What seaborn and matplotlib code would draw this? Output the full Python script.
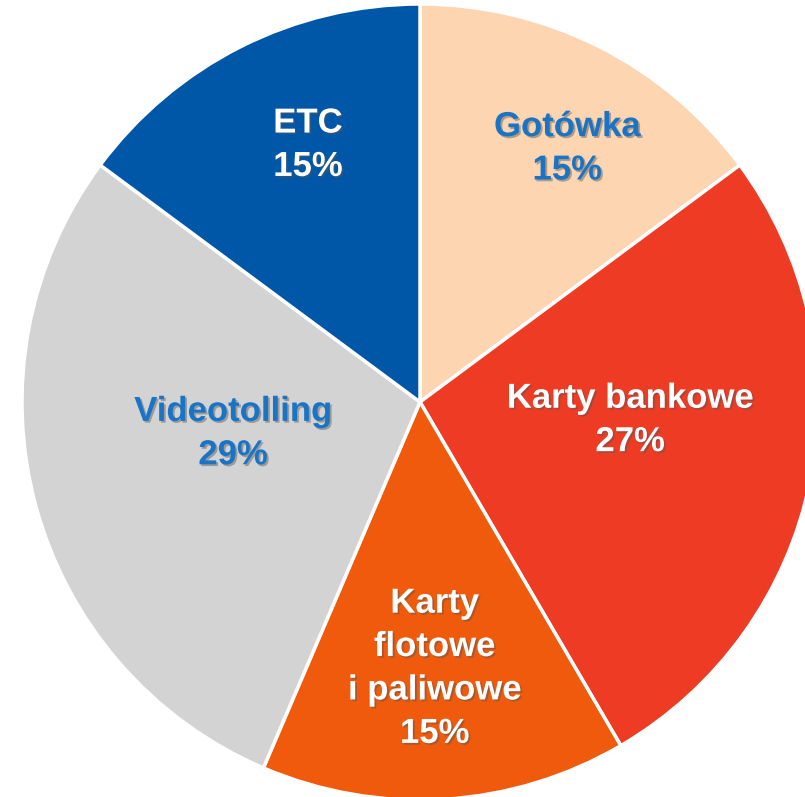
import matplotlib
matplotlib.use("Agg")
import matplotlib.pyplot as plt
import matplotlib.patheffects as pe
import numpy as np
import seaborn as sns

# data
categories = ["Gotówka", "Karty bankowe", "Karty\nflotowe\ni paliwowe", "Videotolling", "ETC"]
shares = [15, 27, 15, 29, 15]

colors = ["#FDD5B1", "#EE3B24", "#EF5A0C", "#D3D3D3", "#0057A8"]
text_colors = ["#1A74C6", "white", "white", "#1A74C6", "white"]
# radial distance / angle nudge for each label
label_r = [0.737, 0.53, 0.67, 0.476, 0.705]
label_nudge = [-3.4, 6.7, -0.4, -5.7, -3.2]

sns.set_theme(style="white")
plt.rcParams["font.family"] = ["Liberation Sans", "DejaVu Sans"]

fig = plt.figure(figsize=(8.05, 7.97), dpi=100)
ax = fig.add_axes([0, 0, 1, 1])

wedges, _ = ax.pie(
    shares,
    colors=colors,
    startangle=90,
    counterclock=False,
    radius=1.0,
    wedgeprops=dict(edgecolor="white", linewidth=2.5),
)

total = sum(shares)
shadow = [pe.SimplePatchShadow(offset=(1.3, -1.3), shadow_rgbFace="#555555", alpha=0.45), pe.Normal()]
for w, cat, val, tc, r, nd in zip(wedges, categories, shares, text_colors, label_r, label_nudge):
    mid = np.deg2rad((w.theta1 + w.theta2) / 2 + nd)
    x, y = r * np.cos(mid), r * np.sin(mid)
    ax.text(x, y, f"{cat}\n{round(val / total * 100)}%", ha="center", va="center",
            fontsize=25, fontweight="bold", color=tc, linespacing=1.4,
            path_effects=shadow)

# scale: 398 px per unit, centre at (420, 402) px
ax.set_xlim(-420 / 398, 385 / 398)
ax.set_ylim(-395 / 398, 402 / 398)
ax.set_aspect("auto")
ax.axis("off")

fig.savefig("out.png", dpi=100, facecolor="white")
